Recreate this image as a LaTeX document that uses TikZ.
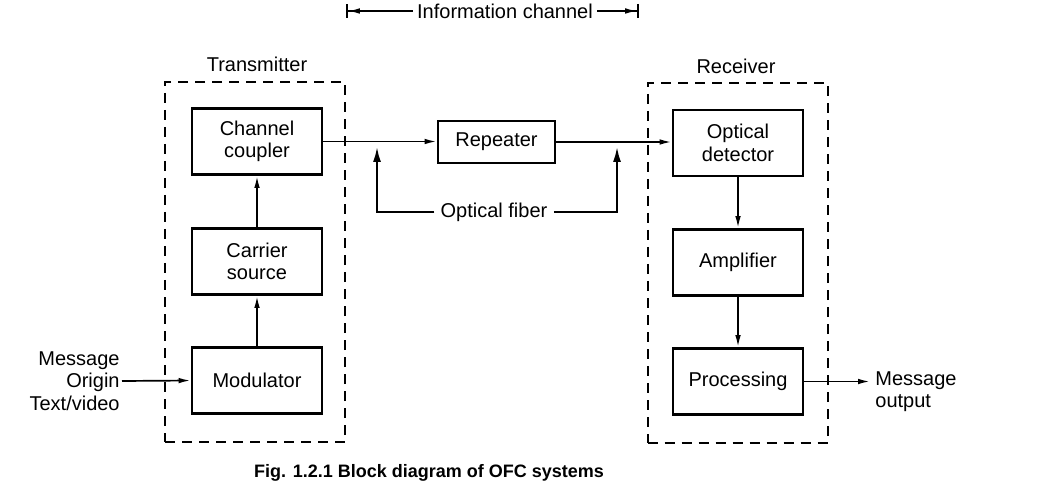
\documentclass[tikz,border=0pt]{standalone}
\usepackage{fontspec}
\setmainfont{Liberation Sans}
\usetikzlibrary{arrows.meta}
\tikzset{
  blk/.style={draw, line width=1.4pt, minimum width=65pt, minimum height=33pt, align=center, inner sep=1pt},
  sysbox/.style={draw, line width=1pt, dash pattern=on 5pt off 3.5pt, minimum width=90pt, minimum height=180pt, inner sep=0pt},
  sig/.style={line width=0.85pt, -{Latex[length=6pt,width=2.8pt]}},
  fib/.style={line width=1.3pt, -{Latex[length=8pt,width=4pt]}},
  span/.style={line width=0.8pt, -{Latex[length=6pt,width=2.8pt]Bar[width=7pt,line width=0.9pt]}},
}
\begin{document}
\begin{tikzpicture}[x=0.5pt,y=-0.5pt,font=\fontsize{10}{11.2}\selectfont]
\useasboundingbox (0,0) rectangle (1052,496);
\path
(255,262) node[sysbox] (tx) {}
(737.5,263) node[sysbox] (rx) {}
(257,64) node (txl) {Transmitter}
(736,66) node (rxl) {Receiver}
(257,141.5) node[blk] (cc) {Channel\\coupler}
(257,261.5) node[blk] (cs) {Carrier\\source}
(257,380.5) node[blk] (mod) {Modulator}
(496.5,142) node[blk, minimum width=58.5pt, minimum height=21pt] (rep) {Repeater}
(738,143) node[blk] (od) {Optical\\detector}
(738,262.5) node[blk] (amp) {Amplifier}
(738,381.5) node[blk] (proc) {Processing}
(122,381) node[anchor=east, align=right, inner sep=1pt] (msg) {Message\\Origin\\Text/video}
(873,391.5) node[anchor=west, align=left, inner sep=1pt] (out) {Message\\output}
(870,381.5) coordinate (outp)
(494,212) node[inner xsep=3pt] (fiber) {Optical fiber}
(377,146) coordinate (fibL)
(617,146) coordinate (fibR)
(505,11) node[inner xsep=2pt] (info) {Information channel}
(346,11) coordinate (infoL)
(639,11) coordinate (infoR)
(429,473) node[font=\fontsize{9}{11}\selectfont\bfseries] (cap) {Fig. 1.2.1 Block diagram of OFC systems};
%transmitter side
\draw[sig] (msg.east) -- (mod.west);
\draw[sig] (mod) -- (cs);
\draw[sig] (cs) -- (cc);
%channel
\draw[sig] (cc.east) -- (cc.east -| rep.west);
\draw[sig] (rep.east) -- (rep.east -| od.west);
\draw[fib] (fiber.west) -| (fibL);
\draw[fib] (fiber.east) -| (fibR);
\draw[span] (info.west) -- (infoL);
\draw[span] (info.east) -- (infoR);
%receiver side
\draw[sig] (od) -- (amp);
\draw[sig] (amp) -- (proc);
\draw[sig] (proc.east) -- (outp);
\end{tikzpicture}
\end{document}
